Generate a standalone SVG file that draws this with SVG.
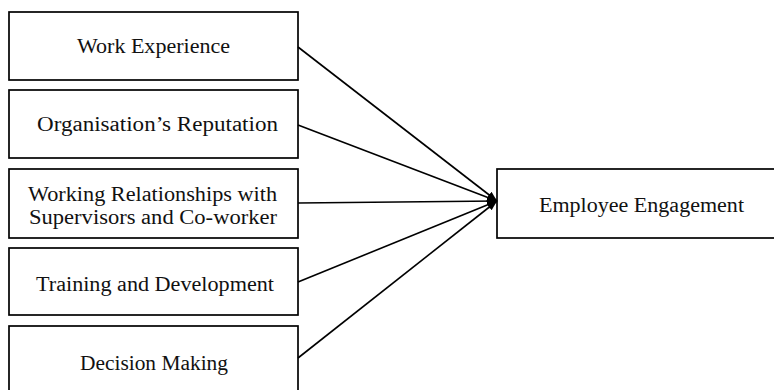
<svg xmlns="http://www.w3.org/2000/svg" width="774" height="390" viewBox="0 0 774 390">
<style>
.box{fill:#fff;stroke:#000;stroke-width:1.7}
.lbl{font-family:"Liberation Serif","DejaVu Serif",serif;font-size:20px;fill:#111;text-anchor:middle}
.con{stroke:#000;stroke-width:1.6;fill:none}
</style>
<defs>
<marker id="ah" markerUnits="userSpaceOnUse" markerWidth="10" markerHeight="10" viewBox="0 0 10 10" refX="10" refY="5" orient="auto">
<path d="M0,1 L10,5 L0,9 Z" fill="#000"/>
</marker>
</defs>
<rect width="774" height="390" fill="#fff"/>
<g id="n1"><rect class="box" x="9" y="12" width="289" height="68"/><text class="lbl" x="153.5" y="53" textLength="153" lengthAdjust="spacingAndGlyphs">Work Experience</text></g>
<g id="n2"><rect class="box" x="9" y="90" width="289" height="68"/><text class="lbl" x="157.5" y="131" textLength="241" lengthAdjust="spacingAndGlyphs">Organisation’s Reputation</text></g>
<g id="n3"><rect class="box" x="9" y="169" width="289" height="69"/><text class="lbl" x="152.5" y="201" textLength="249" lengthAdjust="spacingAndGlyphs">Working Relationships with</text><text class="lbl" x="153" y="224" textLength="248" lengthAdjust="spacingAndGlyphs">Supervisors and Co-worker</text></g>
<g id="n4"><rect class="box" x="9" y="248" width="289" height="67"/><text class="lbl" x="155" y="291" textLength="238" lengthAdjust="spacingAndGlyphs">Training and Development</text></g>
<g id="n5"><rect class="box" x="9" y="326" width="289" height="70"/><text class="lbl" x="154" y="370" textLength="148" lengthAdjust="spacingAndGlyphs">Decision Making</text></g>
<g id="n6"><rect class="box" x="497" y="169" width="290" height="69"/><text class="lbl" x="641.5" y="212" textLength="205" lengthAdjust="spacingAndGlyphs">Employee Engagement</text></g>
<g id="connectors">
<line class="con" x1="298" y1="47" x2="497" y2="201" marker-end="url(#ah)"/>
<line class="con" x1="298" y1="125" x2="497" y2="201" marker-end="url(#ah)"/>
<line class="con" x1="298" y1="203" x2="497" y2="201" marker-end="url(#ah)"/>
<line class="con" x1="298" y1="282" x2="497" y2="201" marker-end="url(#ah)"/>
<line class="con" x1="298" y1="358" x2="497" y2="201" marker-end="url(#ah)"/>
</g>
</svg>
